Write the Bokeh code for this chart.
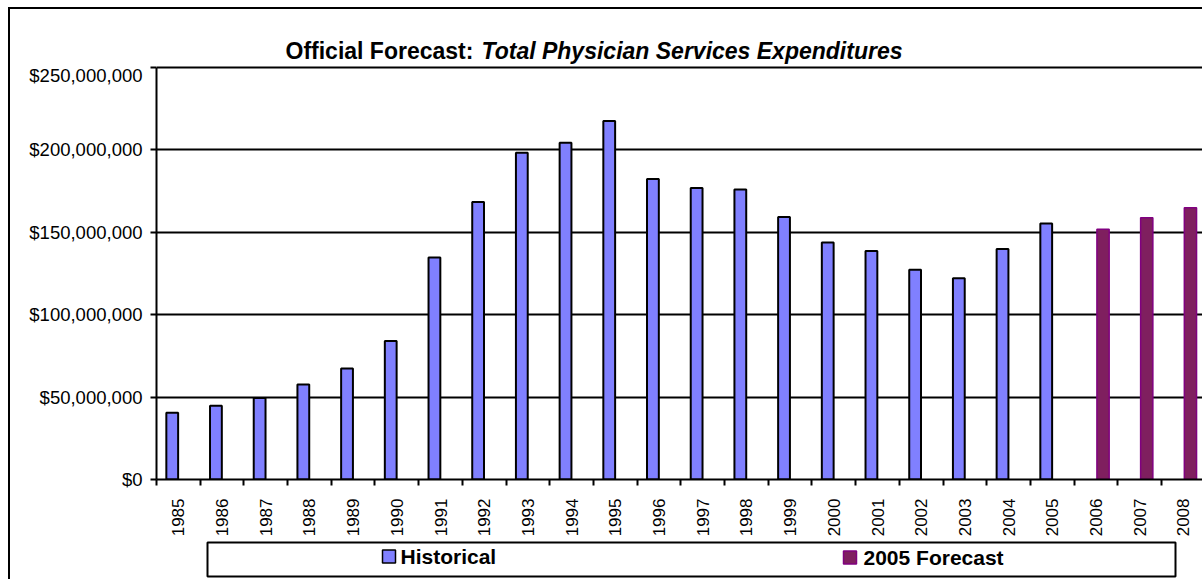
import math
from bokeh.plotting import figure
from bokeh.layouts import column
from bokeh.models import Range1d, FixedTicker, NumeralTickFormatter, ColumnDataSource
from bokeh.core.properties import value
from bokeh.transform import dodge
from bokeh.embed import file_html
from bokeh.resources import INLINE

# ---- data ----
years = [str(y) for y in range(1985, 2009)]
hist_years = [str(y) for y in range(1985, 2006)]
hist_values = [40.5e6, 44.8e6, 49.4e6, 57.6e6, 67.3e6, 84.1e6, 134.7e6, 168.4e6,
               198.2e6, 204.3e6, 217.6e6, 182.4e6, 176.9e6, 176.0e6, 159.3e6,
               143.8e6, 138.6e6, 127.3e6, 122.1e6, 139.8e6, 155.4e6]
fc_years = ["2006", "2007", "2008"]
fc_values = [151.8e6, 158.8e6, 164.9e6]
y_ticks = [0, 50e6, 100e6, 150e6, 200e6, 250e6]
title_a = "Official Forecast:"
title_b = "Total Physician Services Expenditures"
series_names = ["Historical", "2005 Forecast"]

FONT = "Liberation Sans"
HIST_FILL = "#8080FF"
FC_FILL = "#7F1F5F"
FC_LINE = "#800080"
W = 1202
LEFT = 156  # canvas x of the plot frame's left edge (frames are aligned by the column)


def bare(height, y0, y1):
    f = figure(width=W, height=height, output_backend="svg", toolbar_location=None,
               x_range=Range1d(LEFT, W), y_range=Range1d(y1, y0),
               x_axis_type=None, y_axis_type=None,
               min_border_left=LEFT, min_border_right=0, min_border_top=0, min_border_bottom=0)
    f.grid.visible = False
    f.outline_line_color = None
    f.background_fill_color = None
    f.border_fill_color = None
    return f


# ---- title strip (canvas y 0..64) ----
t = bare(64, 0, 64)
t.text(x=[285], y=[50], text=[title_a], text_font=value(FONT), text_font_style="bold",
       text_font_size="23px", text_baseline="alphabetic", text_align="left", text_color="black")
t.text(x=[481], y=[50], text=[title_b], text_font=value(FONT), text_font_style="bold italic",
       text_font_size="23px", text_baseline="alphabetic", text_align="left", text_color="black")

# ---- main chart (canvas y 64..539) ----
frame_px = 418.0
p = figure(width=W, height=475, output_backend="svg", toolbar_location=None,
           x_range=Range1d(-0.5, 23.436), y_range=Range1d(0, 250e6 * frame_px / 415.0),
           min_border_left=LEFT, min_border_right=0, min_border_top=0, min_border_bottom=57)
p.border_fill_color = None
p.background_fill_color = "white"
p.outline_line_color = None

hist_src = ColumnDataSource(dict(x=[years.index(y) for y in hist_years], top=hist_values))
fc_src = ColumnDataSource(dict(x=[years.index(y) for y in fc_years], top=fc_values))

p.vbar(x=dodge("x", -0.14, range=p.x_range), top="top", bottom=0, width=0.27, source=hist_src,
       fill_color=HIST_FILL, line_color="black", line_width=2)
p.vbar(x=dodge("x", 0.16, range=p.x_range), top="top", bottom=0, width=0.28, source=fc_src,
       fill_color=FC_FILL, line_color=FC_LINE, line_width=1.5)

p.xgrid.visible = False
p.ygrid.ticker = FixedTicker(ticks=y_ticks)
p.ygrid.grid_line_color = "black"
p.ygrid.grid_line_width = 2

xa = p.xaxis[0]
xa.ticker = FixedTicker(ticks=list(range(len(years))),
                        minor_ticks=[i - 0.5 for i in range(len(years) + 1)])
xa.major_label_overrides = {i: y for i, y in enumerate(years)}
xa.major_label_orientation = math.pi / 2
xa.major_tick_line_color = None
xa.major_tick_out = 0
xa.major_tick_in = 0
xa.minor_tick_in = 0
xa.minor_tick_out = 6
xa.minor_tick_line_color = "black"
xa.minor_tick_line_width = 2
xa.axis_line_color = "black"
xa.axis_line_width = 2
xa.major_label_standoff = 13
xa.major_label_text_font = FONT
xa.major_label_text_font_size = "17px"
xa.major_label_text_color = "black"

ya = p.yaxis[0]
ya.ticker = FixedTicker(ticks=y_ticks)
ya.bounds = (0, 250e6)
ya.formatter = NumeralTickFormatter(format="$0,0")
ya.major_tick_in = 0
ya.major_tick_out = 6
ya.major_tick_line_width = 2
ya.major_tick_line_color = "black"
ya.minor_tick_line_color = None
ya.axis_line_color = "black"
ya.axis_line_width = 2
ya.major_label_standoff = 8
ya.major_label_text_font = FONT
ya.major_label_text_font_size = "18.5px"
ya.major_label_text_color = "black"

# ---- legend strip (canvas y 539..579) ----
lg = bare(40, 539, 579)
lg.quad(left=[207], right=[1175], top=[542], bottom=[576],
        fill_color="white", line_color="black", line_width=2)
lg.rect(x=[388.5, 849.5], y=[556, 557], width=13, height=13,
        fill_color=[HIST_FILL, FC_FILL], line_color=["black", FC_LINE], line_width=1.5)
lg.text(x=[400, 863], y=[556, 557], text=series_names, text_font=value(FONT),
        text_font_style="bold", text_font_size="21px", text_baseline="middle",
        text_align="left", text_color="black")

# outer chart-area border (left and top edges; right/bottom fall outside the window)
border_css = ("linear-gradient(#000, #000) 8px 7px / 2px calc(100% - 7px) no-repeat, "
              "linear-gradient(#000, #000) 8px 7px / calc(100% - 8px) 2px no-repeat")
layout = column(t, p, lg, spacing=0, styles={"background": border_css})
open("out.html", "w").write(file_html(layout, INLINE))
